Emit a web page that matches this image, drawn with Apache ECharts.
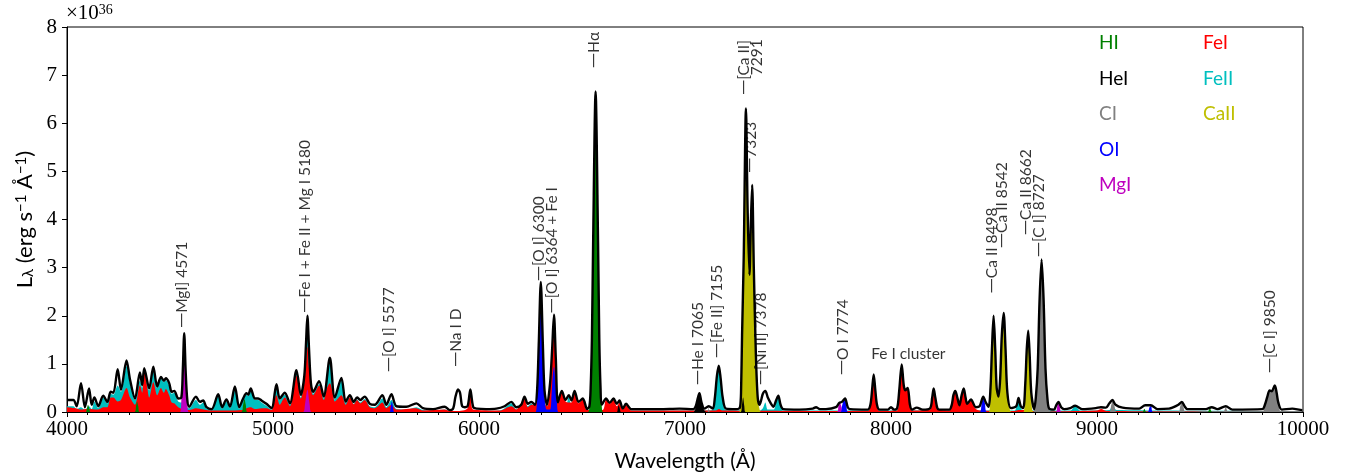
<!DOCTYPE html>
<html>
<head>
<meta charset="utf-8">
<script src="https://cdn.jsdelivr.net/npm/echarts@6/dist/echarts.min.js"></script>
<style>
html, body { margin: 0; padding: 0; background: #fff; }
#chart { width: 1354px; height: 474px; }
</style>
</head>
<body>
<div id="chart"></div>
<script>
// Axis ranges (wavelength in Å, luminosity in units of 1e36 erg/s/Å)
const X_RANGE = [4000, 10000];
const X_STEP = 1000;
const Y_RANGE = [0, 8];
const Y_STEP = 1;

// Total model spectrum [wavelength, L]
const TOTAL = [
  [4000,0.25],[4031,0.25],[4047,0.12],[4068,0.6],[4087,0.1],[4107,0.49],[4120,0.15],[4133,0.3],[4152,0.12],[4176,0.34],
  [4196,0.21],[4212,0.42],[4225,0.4],[4246,0.89],[4262,0.46],[4289,1.07],[4306,0.67],[4330,0.28],[4354,0.82],[4365,0.56],
  [4375,0.91],[4399,0.49],[4419,0.94],[4438,0.53],[4456,0.73],[4470,0.65],[4480,0.7],[4496,0.6],[4508,0.42],[4521,0.44],
  [4540,0.28],[4555,0.3],[4562,0.85],[4569,1.64],[4576,0.85],[4584,0.25],[4593,0.11],[4626,0.32],[4645,0.21],[4661,0.24],
  [4677,0.1],[4702,0.06],[4734,0.37],[4753,0.1],[4774,0.26],[4791,0.11],[4815,0.53],[4836,0.1],[4855,0.28],[4871,0.39],
  [4880,0.36],[4892,0.49],[4912,0.28],[4928,0.28],[4944,0.24],[4968,0.17],[4993,0.08],[5017,0.58],[5033,0.28],[5057,0.4],
  [5082,0.18],[5114,0.87],[5135,0.35],[5152,0.75],[5160,1.4],[5167,2.0],[5175,1.3],[5184,0.6],[5195,0.42],[5224,0.64],
  [5246,0.32],[5276,1.13],[5300,0.3],[5332,0.71],[5353,0.21],[5373,0.35],[5392,0.21],[5408,0.3],[5424,0.25],[5445,0.32],
  [5470,0.17],[5494,0.15],[5531,0.35],[5550,0.15],[5575,0.37],[5599,0.12],[5647,0.11],[5696,0.18],[5728,0.08],[5777,0.06],
  [5833,0.11],[5858,0.04],[5875,0.08],[5885,0.3],[5898,0.47],[5908,0.4],[5918,0.12],[5930,0.1],[5945,0.12],[5958,0.47],
  [5972,0.1],[5990,0.07],[6035,0.06],[6084,0.07],[6124,0.12],[6157,0.21],[6181,0.1],[6205,0.15],[6221,0.32],[6237,0.17],
  [6254,0.21],[6272,0.15],[6282,0.45],[6290,1.4],[6300,2.7],[6310,1.4],[6318,0.45],[6330,0.15],[6345,0.6],[6355,1.3],
  [6364,2.02],[6373,1.1],[6383,0.2],[6402,0.44],[6420,0.25],[6436,0.35],[6449,0.24],[6464,0.44],[6483,0.21],[6504,0.28],
  [6525,0.06],[6536,0.12],[6542,0.5],[6548,1.5],[6554,3.5],[6566,6.66],[6578,3.5],[6584,1.5],[6590,0.5],[6596,0.15],
  [6617,0.28],[6634,0.19],[6653,0.28],[6669,0.17],[6682,0.24],[6698,0.07],[6714,0.17],[6739,0.06],[6876,0.06],[6973,0.07],
  [7040,0.06],[7052,0.12],[7060,0.25],[7070,0.39],[7080,0.2],[7094,0.07],[7115,0.12],[7135,0.07],[7145,0.3],[7155,0.75],
  [7164,0.96],[7173,0.7],[7183,0.3],[7199,0.07],[7248,0.06],[7262,0.07],[7268,0.12],[7272,0.4],[7277,1.6],[7285,3.2],
  [7296,6.31],[7304,4.2],[7313,2.85],[7319,3.8],[7326,4.72],[7334,3.0],[7344,1.2],[7353,0.3],[7362,0.15],[7370,0.25],
  [7378,0.38],[7390,0.44],[7402,0.3],[7418,0.17],[7429,0.11],[7443,0.25],[7453,0.34],[7464,0.15],[7477,0.06],[7555,0.05],
  [7620,0.07],[7636,0.1],[7655,0.06],[7684,0.06],[7733,0.1],[7749,0.19],[7762,0.21],[7777,0.28],[7790,0.1],[7801,0.06],
  [7887,0.05],[7900,0.15],[7908,0.45],[7916,0.78],[7924,0.45],[7932,0.15],[7944,0.05],[7985,0.05],[8000,0.1],[8015,0.05],
  [8030,0.08],[8040,0.45],[8052,0.99],[8062,0.55],[8070,0.45],[8081,0.5],[8092,0.15],[8102,0.05],[8125,0.09],[8154,0.05],
  [8190,0.08],[8200,0.3],[8207,0.49],[8215,0.3],[8225,0.08],[8235,0.05],[8283,0.05],[8295,0.15],[8303,0.35],[8312,0.44],
  [8322,0.3],[8332,0.14],[8343,0.35],[8353,0.49],[8362,0.3],[8370,0.17],[8388,0.26],[8412,0.1],[8430,0.12],[8448,0.32],
  [8460,0.2],[8474,0.11],[8483,0.5],[8490,1.3],[8498,2.0],[8506,1.3],[8513,0.5],[8522,0.32],[8530,0.7],[8538,1.6],
  [8547,2.06],[8556,1.3],[8565,0.4],[8582,0.08],[8608,0.12],[8619,0.29],[8630,0.12],[8642,0.08],[8652,0.6],[8659,1.3],
  [8666,1.69],[8673,1.2],[8681,0.4],[8695,0.06],[8703,0.3],[8712,0.9],[8721,2.3],[8731,3.17],[8741,2.3],[8750,0.9],
  [8759,0.3],[8768,0.07],[8792,0.05],[8800,0.12],[8813,0.21],[8826,0.1],[8841,0.06],[8870,0.08],[8894,0.13],[8930,0.06],
  [8994,0.08],[9019,0.1],[9043,0.09],[9060,0.18],[9075,0.25],[9090,0.15],[9124,0.09],[9205,0.07],[9234,0.14],[9261,0.14],
  [9294,0.06],[9350,0.07],[9366,0.09],[9395,0.15],[9412,0.21],[9425,0.12],[9439,0.06],[9528,0.06],[9557,0.1],[9585,0.06],
  [9625,0.12],[9657,0.05],[9803,0.06],[9815,0.15],[9827,0.32],[9838,0.45],[9848,0.43],[9863,0.55],[9872,0.4],[9880,0.2],
  [9897,0.05],[9948,0.07],[9997,0.04],[10000,0.04]
];

// Per-species contributions [wavelength, L]
const FE_II = [
  [4000,0.12],[4031,0.12],[4047,0.06],[4068,0.1],[4087,0.05],[4107,0.12],[4120,0.06],[4133,0.22],[4152,0.08],[4176,0.3],
  [4196,0.18],[4212,0.38],[4225,0.36],[4246,0.55],[4262,0.42],[4289,0.95],[4306,0.6],[4330,0.25],[4354,0.65],[4365,0.5],
  [4375,0.85],[4399,0.45],[4419,0.88],[4438,0.5],[4456,0.7],[4470,0.62],[4480,0.66],[4496,0.55],[4508,0.38],[4521,0.4],
  [4540,0.22],[4556,0.2],[4569,0.25],[4584,0.1],[4593,0.08],[4626,0.25],[4645,0.15],[4661,0.2],[4677,0.07],[4702,0.05],
  [4734,0.33],[4753,0.07],[4774,0.22],[4791,0.08],[4815,0.48],[4836,0.07],[4855,0.25],[4871,0.36],[4880,0.33],[4892,0.45],
  [4912,0.25],[4928,0.25],[4944,0.2],[4968,0.13],[4993,0.05],[5017,0.55],[5033,0.25],[5057,0.36],[5082,0.15],[5114,0.8],
  [5135,0.3],[5152,0.7],[5160,1.3],[5167,1.9],[5175,1.2],[5184,0.55],[5195,0.38],[5224,0.58],[5246,0.28],[5276,1.08],
  [5300,0.26],[5332,0.66],[5353,0.18],[5373,0.3],[5392,0.17],[5408,0.26],[5424,0.2],[5445,0.27],[5470,0.12],[5494,0.1],
  [5531,0.28],[5550,0.1],[5575,0.25],[5599,0.06],[5647,0.05],[5696,0.1],[5728,0.04],[5777,0.03],[5833,0.05],[5858,0.02],
  [5930,0.02],[6100,0.03],[6124,0.08],[6157,0.18],[6181,0.05],[6205,0.1],[6221,0.2],[6237,0.12],[6254,0.18],[6272,0.06],
  [6332,0.05],[6402,0.15],[6420,0.1],[6436,0.33],[6449,0.1],[6464,0.2],[6483,0.08],[6525,0.03],[6700,0.03],[7120,0.03],
  [7135,0.05],[7145,0.3],[7155,0.75],[7164,0.95],[7173,0.7],[7183,0.3],[7199,0.04],[7362,0.03],[7378,0.08],[7390,0.2],
  [7402,0.05],[7430,0.05],[7443,0.22],[7453,0.33],[7464,0.14],[7477,0.03],[8600,0.03],[8608,0.1],[8619,0.28],[8630,0.1],
  [8640,0.03],[8870,0.03],[8894,0.12],[8920,0.03],[9060,0.04],[9075,0.16],[9095,0.04],[10000,0.02]
];

const FE_I = [
  [4000,0.1],[4040,0.08],[4068,0.05],[4100,0.06],[4150,0.05],[4176,0.1],[4196,0.1],[4212,0.3],[4225,0.3],[4246,0.22],
  [4262,0.25],[4289,0.5],[4306,0.3],[4330,0.15],[4354,0.55],[4365,0.4],[4375,0.85],[4390,0.5],[4399,0.3],[4419,0.62],
  [4438,0.35],[4456,0.5],[4470,0.4],[4480,0.48],[4496,0.35],[4508,0.2],[4521,0.18],[4540,0.1],[4569,0.05],[4593,0.04],
  [4626,0.08],[4700,0.03],[4780,0.03],[4850,0.04],[4871,0.08],[4892,0.1],[4912,0.06],[4944,0.08],[4968,0.08],[4993,0.04],
  [5017,0.35],[5033,0.15],[5057,0.3],[5082,0.12],[5114,0.75],[5135,0.28],[5152,0.6],[5160,1.0],[5167,1.36],[5175,0.9],
  [5184,0.5],[5195,0.35],[5224,0.55],[5246,0.25],[5262,0.5],[5276,0.6],[5290,0.4],[5300,0.22],[5332,0.35],[5353,0.15],
  [5373,0.3],[5392,0.16],[5408,0.25],[5424,0.18],[5445,0.25],[5470,0.1],[5494,0.08],[5531,0.2],[5550,0.08],[5575,0.15],
  [5599,0.05],[5696,0.08],[5728,0.03],[5833,0.05],[5858,0.02],[5890,0.02],[5945,0.08],[5958,0.45],[5972,0.05],[6100,0.03],
  [6157,0.12],[6181,0.05],[6221,0.28],[6237,0.1],[6254,0.15],[6272,0.15],[6282,0.35],[6292,0.4],[6310,0.3],[6322,0.15],
  [6332,0.12],[6345,0.55],[6355,1.3],[6364,2.0],[6373,1.1],[6383,0.18],[6402,0.42],[6420,0.22],[6436,0.2],[6449,0.2],
  [6464,0.42],[6483,0.18],[6504,0.26],[6525,0.04],[6600,0.04],[6617,0.27],[6634,0.17],[6653,0.26],[6669,0.12],[6682,0.2],
  [6698,0.05],[6714,0.15],[6739,0.03],[7150,0.03],[7165,0.06],[7180,0.03],[7887,0.02],[7900,0.12],[7908,0.42],[7916,0.77],
  [7924,0.42],[7932,0.12],[7944,0.02],[8030,0.03],[8040,0.44],[8052,0.98],[8062,0.54],[8070,0.44],[8081,0.49],[8092,0.14],
  [8102,0.03],[8190,0.05],[8200,0.29],[8207,0.48],[8215,0.29],[8225,0.06],[8283,0.03],[8295,0.14],[8303,0.34],[8312,0.43],
  [8322,0.29],[8332,0.13],[8343,0.34],[8353,0.48],[8362,0.29],[8370,0.16],[8388,0.25],[8412,0.06],[8430,0.03],[8600,0.02],
  [8619,0.04],[8680,0.03],[8700,0.01],[9000,0.03],[9020,0.06],[9045,0.02],[10000,0.01]
];

const MG_I = [
  [4000,0],[4548,0],[4555,0.25],[4562,0.85],[4569,1.62],[4576,0.85],[4584,0.22],[4592,0],[5145,0],[5155,0.15],
  [5167,0.46],[5178,0.15],[5188,0],[7738,0],[7745,0.12],[7752,0.19],[7760,0.1],[7768,0],[8800,0],[8807,0.12],
  [8813,0.2],[8820,0.1],[8828,0],[10000,0]
];

const O_I = [
  [4000,0],[5565,0],[5571,0.1],[5577,0.22],[5583,0.1],[5590,0],[6275,0],[6282,0.42],[6290,1.38],[6300,2.68],
  [6310,1.38],[6318,0.4],[6328,0.05],[6345,0.05],[6352,0.35],[6358,0.75],[6364,0.94],[6371,0.6],[6378,0.25],[6386,0],
  [7755,0],[7762,0.12],[7770,0.25],[7777,0.28],[7784,0.12],[7792,0],[8430,0],[8440,0.18],[8448,0.31],[8456,0.18],
  [8466,0],[9245,0],[9255,0.1],[9263,0.13],[9272,0],[10000,0]
];

const H_I = [
  [4000,0],[4090,0],[4097,0.08],[4102,0.15],[4108,0.08],[4115,0],[4328,0],[4335,0.12],[4340,0.22],[4346,0.12],
  [4352,0],[4845,0],[4855,0.15],[4861,0.27],[4868,0.15],[4876,0],[6528,0],[6536,0.12],[6542,0.5],[6548,1.5],
  [6554,3.5],[6566,6.66],[6578,3.5],[6584,1.5],[6590,0.5],[6596,0.12],[6604,0],[9220,0],[9230,0.07],[9240,0],
  [9536,0],[9548,0.08],[9560,0],[10000,0]
];

const C_I = [
  [4000,0],[7108,0],[7115,0.1],[7122,0],[8690,0],[8695,0.04],[8703,0.3],[8712,0.9],[8721,2.3],[8731,3.17],
  [8741,2.3],[8750,0.9],[8759,0.3],[8768,0.05],[8775,0],[9060,0],[9068,0.12],[9075,0.22],[9085,0.12],[9095,0],
  [9395,0],[9404,0.12],[9412,0.2],[9420,0.1],[9430,0],[9612,0],[9625,0.1],[9638,0],[9800,0],[9815,0.12],
  [9827,0.3],[9838,0.43],[9848,0.41],[9863,0.53],[9872,0.38],[9880,0.18],[9895,0],[10000,0]
];

const CA_II = [
  [4000,0],[7262,0],[7268,0.1],[7272,0.4],[7277,1.6],[7285,3.2],[7296,6.31],[7304,4.2],[7313,2.85],[7319,3.8],
  [7326,4.72],[7334,3.0],[7344,1.2],[7353,0.3],[7362,0.05],[7368,0],[8475,0],[8483,0.5],[8490,1.3],[8498,2.0],
  [8506,1.3],[8513,0.5],[8522,0.3],[8530,0.7],[8538,1.6],[8547,2.06],[8556,1.3],[8565,0.4],[8578,0.03],[8585,0],
  [8642,0],[8652,0.6],[8659,1.3],[8666,1.69],[8673,1.2],[8681,0.4],[8692,0],[10000,0]
];

const HE_I = [
  [4000,0],[6668,0],[6674,0.08],[6678,0.14],[6683,0.08],[6690,0],[7040,0],[7052,0.1],[7060,0.24],[7070,0.39],
  [7080,0.19],[7094,0.03],[7105,0],[7270,0],[7276,0.12],[7282,0.3],[7288,0.12],[7294,0],[10000,0]
];

// Line identifications: [wavelength, L, text, rotation, leading tick]
const NOTES = [
  [4560, 1.75, 'MgI] 4571', 90, true],
  [5155, 2.06, 'Fe I + Fe II + Mg I 5180', 90, true],
  [5565, 0.83, '[O I] 5577', 90, true],
  [5890, 0.94, 'Na I D', 90, true],
  [6290, 2.72, '[O I] 6300', 90, true],
  [6355, 2.05, '[O I] 6364 + Fe I', 90, true],
  [6558, 7.15, 'Hα', 90, true],
  [7062, 0.56, 'He I 7065', 90, true],
  [7155, 1.12, '[Fe II] 7155', 90, true],
  [7287, 6.59, '[Ca II]', 90, true],
  [7350, 7.0, '7291', 90, false],
  [7318, 4.97, '7323', 90, true],
  [7368, 0.56, '[Ni II] 7378', 90, true],
  [7765, 0.77, 'O I 7774', 90, true],
  [8084, 1.2, 'Fe I cluster', 0, false],
  [8492, 2.47, 'Ca II 8498', 90, true],
  [8541, 3.41, 'Ca II 8542', 90, true],
  [8654, 3.68, 'Ca II 8662', 90, true],
  [8719, 3.22, '[C I] 8727', 90, true],
  [9842, 0.81, '[C I] 9850', 90, true]
];

// Species: name, data, fill colour (drawing order back to front)
const SPECIES = [
  ['FeII', FE_II, '#00bfbf'],
  ['FeI', FE_I, '#ff0000'],
  ['MgI', MG_I, '#bf00bf'],
  ['OI', O_I, '#0000ff'],
  ['HI', H_I, '#008000'],
  ['CI', C_I, '#808080'],
  ['CaII', CA_II, '#bfbf00'],
  ['HeI', HE_I, '#000000']
];
const LEGEND_LEFT = ['HI', 'HeI', 'CI', 'OI', 'MgI'];
const LEGEND_RIGHT = ['FeI', 'FeII', 'CaII'];

const SANS = 'Lato';
const SERIF = 'Liberation Serif';
const colorOf = {};
SPECIES.forEach(s => { colorOf[s[0]] = s[2]; });
const legendItems = names => names.map(n => ({ name: n, textStyle: { color: colorOf[n] } }));

const chart = echarts.init(document.getElementById('chart'), null, { renderer: 'canvas' });

const series = SPECIES.map(([name, data, color]) => ({
  name: name,
  type: 'line',
  data: data,
  smooth: 0.3,
  symbol: 'none',
  color: color,
  lineStyle: { width: 0, color: color },
  areaStyle: { color: color, opacity: 1 },
  silent: true
}));

series.push({
  name: 'total',
  type: 'line',
  data: TOTAL,
  smooth: 0.3,
  symbol: 'none',
  lineStyle: { color: '#000', width: 2.4 },
  silent: true,
  z: 5
});

series.push({
  name: 'notes',
  type: 'scatter',
  symbolSize: 1,
  itemStyle: { color: 'rgba(0,0,0,0)' },
  silent: true,
  clip: false,
  z: 6,
  data: NOTES.map(n => ({
    value: [n[0], n[1]],
    label: {
      show: true,
      formatter: (n[4] ? '{d|—}' : '') + n[2],
      rotate: n[3],
      position: 'inside',
      align: n[3] ? 'left' : 'center',
      verticalAlign: 'middle',
      color: '#000',
      fontFamily: SANS,
      fontSize: 15.5,
      rich: { d: { fontFamily: 'DejaVu Sans', fontSize: 15, color: '#000' } }
    }
  }))
});

chart.setOption({
  animation: false,
  backgroundColor: '#fff',
  title: {
    text: '×10{sup|36}',
    left: 66,
    top: 3,
    padding: 0,
    textStyle: {
      fontFamily: SERIF, fontSize: 21, fontWeight: 'normal', color: '#000',
      rich: { sup: { fontFamily: SERIF, fontSize: 14, verticalAlign: 'top', color: '#000' } }
    }
  },
  grid: {
    left: 67, right: 51, top: 27, bottom: 62,
    outerBoundsMode: 'none',
    show: true, borderColor: '#000', borderWidth: 1
  },
  legend: [
    {
      data: legendItems(LEGEND_LEFT), orient: 'vertical', left: 1089, top: 28,
      icon: 'none', itemWidth: 0, itemHeight: 20, itemGap: 16, selectedMode: false,
      textStyle: { fontFamily: SANS, fontSize: 19 }
    },
    {
      data: legendItems(LEGEND_RIGHT), orient: 'vertical', left: 1193, top: 28,
      icon: 'none', itemWidth: 0, itemHeight: 20, itemGap: 16, selectedMode: false,
      textStyle: { fontFamily: SANS, fontSize: 19 }
    }
  ],
  xAxis: {
    type: 'value',
    min: X_RANGE[0], max: X_RANGE[1], interval: X_STEP,
    name: 'Wavelength (Å)', nameLocation: 'middle', nameGap: 39,
    nameTextStyle: { fontFamily: SANS, fontSize: 21, color: '#000' },
    axisLine: { lineStyle: { color: '#000', width: 1 } },
    axisTick: { length: 5, lineStyle: { color: '#000' } },
    minorTick: { show: true, splitNumber: 10, length: 3, lineStyle: { color: '#000' } },
    splitLine: { show: false },
    axisLabel: { fontFamily: SERIF, fontSize: 21, color: '#000', margin: 7, formatter: v => String(v) }
  },
  yAxis: {
    type: 'value',
    min: Y_RANGE[0], max: Y_RANGE[1], interval: Y_STEP,
    name: 'L{sub|λ} (erg s{sup|−1} Å{sup|−1})',
    nameLocation: 'middle', nameRotate: 90, nameGap: 30,
    nameTextStyle: {
      fontFamily: SANS, fontSize: 22, color: '#000',
      rich: {
        sub: { fontFamily: SANS, fontSize: 15, verticalAlign: 'bottom', color: '#000' },
        sup: { fontFamily: SANS, fontSize: 15, verticalAlign: 'top', color: '#000' }
      }
    },
    axisLine: { show: true, lineStyle: { color: '#000', width: 1 } },
    axisTick: { show: true, length: 5, lineStyle: { color: '#000' } },
    splitLine: { show: false },
    axisLabel: { fontFamily: SERIF, fontSize: 21, color: '#000', margin: 10, formatter: v => String(v) }
  },
  series: series
});
</script>
</body>
</html>
